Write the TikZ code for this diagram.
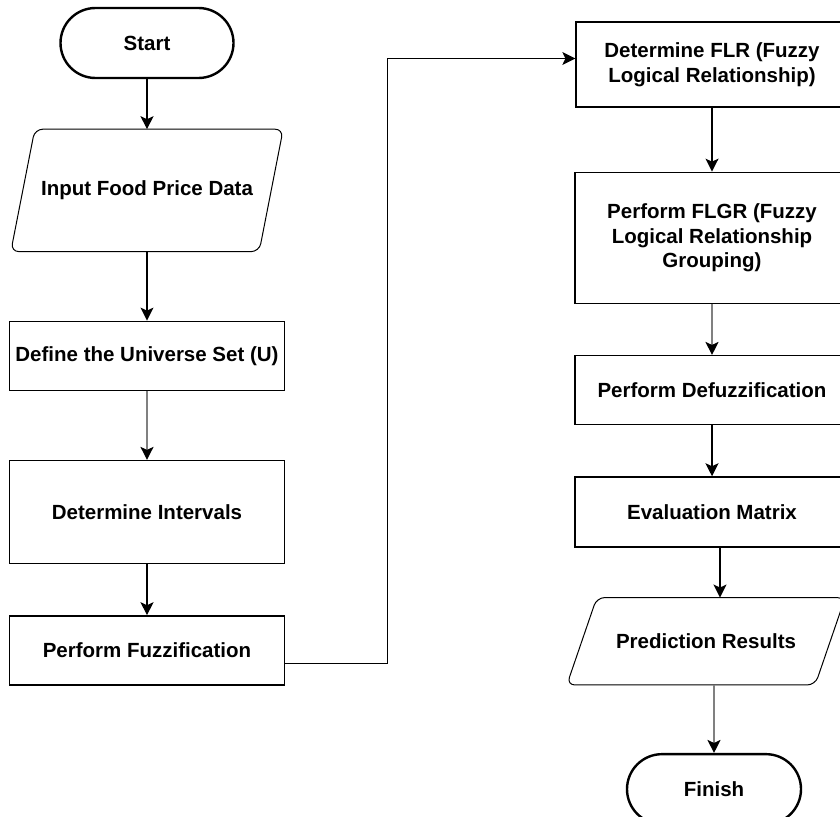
\documentclass[tikz,border=0pt]{standalone}
\usepackage{fontspec}
\setmainfont{Liberation Sans}
\usetikzlibrary{
        arrows.meta,
        positioning
    }
\tikzset{>={Stealth[length=13pt,width=13pt,inset=3pt]},node distance=50pt}
\tikzset{
    terminal/.style={draw,line width=2.4pt,rounded corners=35pt,minimum width=173pt,minimum height=70pt},
    process/.style={draw,line width=1.3pt,minimum width=275pt,align=center},
    io/.style={minimum width=248pt,align=center},
    ioline/.style={line width=1pt,rounded corners=8pt},
    flow/.style={->,line width=1.3pt},
    flowgray/.style={flow,line width=1.7pt,draw=black!50,-{Stealth[length=13pt,width=13pt,inset=3pt,color=black]}}
}

\begin{document}
\begin{tikzpicture}[x=1pt,y=-1pt,font=\bfseries\fontsize{20.5pt}{24.5pt}\selectfont]
    \useasboundingbox (0,0) rectangle (840,816);
    % left column
    \node[terminal] (start) at (147,43) {Start};
    \node[io,minimum height=122pt,below=50pt of start] (input) {Input Food Price Data};
    \node[process,minimum height=69pt,below=69pt of input] (universe) {Define the Universe Set (U)};
    \node[process,minimum height=103pt,below=69pt of universe] (intervals) {Determine Intervals};
    \node[process,minimum height=69pt,below=51pt of intervals] (fuzzify) {Perform Fuzzification};
    % right column
    \node[process,minimum width=272pt,minimum height=85pt] (flr) at (712,64.5) {Determine FLR (Fuzzy\\Logical Relationship)};
    \node[process,minimum width=274pt,minimum height=131pt,below=64pt of flr] (flgr) {Perform FLGR (Fuzzy\\Logical Relationship\\Grouping)};
    \node[process,minimum width=274pt,minimum height=69pt,below=51pt of flgr] (defuzz) {Perform Defuzzification};
    \node[process,minimum width=274pt,minimum height=70pt,below=51pt of defuzz] (evalm) {Evaluation Matrix};
    \node[io,minimum height=87pt,below=50pt of evalm,xshift=-6pt] (result) {Prediction Results};
    \node[terminal,minimum width=174pt,below=68pt of result,xshift=8pt] (finish) {Finish};
    \coordinate (drop) at ([xshift=8pt]evalm.south);

    % data boxes
    \draw[ioline] ([xshift=-12pt]input.south west) -- ([xshift=12pt]input.north west)
        -- ([xshift=12pt]input.north east) -- ([xshift=-12pt]input.south east) -- cycle;
    \draw[ioline] ([xshift=-15pt]result.south west) -- ([xshift=15pt]result.north west)
        -- ([xshift=15pt]result.north east) -- ([xshift=-15pt]result.south east) -- cycle;

    \draw[flow] (start) -- (input);
    \draw[flow] (input) -- (universe);
    \draw[flowgray] (universe) -- (intervals);
    \draw[flow] (intervals) -- (fuzzify);
    \draw[flow] ([yshift=-13pt]fuzzify.east) -- ++(102.5,0) |- ([yshift=6pt]flr.west);
    \draw[flow] (flr) -- (flgr);
    \draw[flowgray] (flgr) -- (defuzz);
    \draw[flow] (defuzz) -- (evalm);
    \draw[flow] ([xshift=23pt]evalm.south) -- (drop) -- (drop |- result.north);
    \draw[flowgray] (finish.north |- result.south) -- (finish.north);
\end{tikzpicture}
\end{document}
